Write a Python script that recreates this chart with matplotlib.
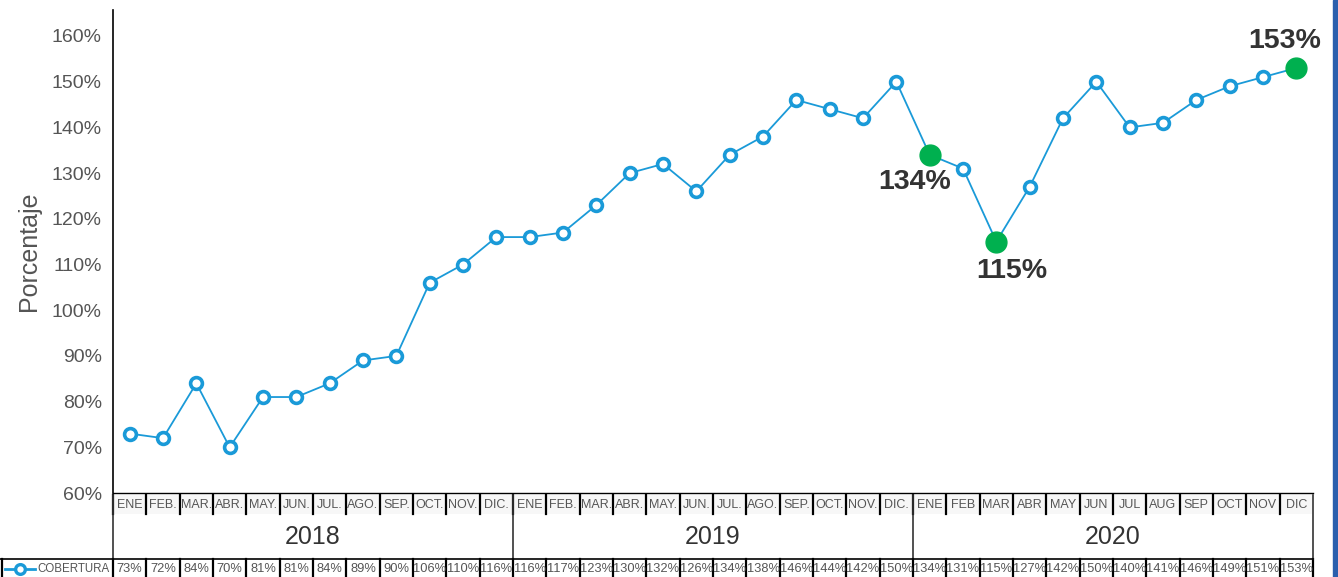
import numpy as np
import matplotlib.pyplot as plt
from matplotlib.patches import Rectangle

plt.rcParams['font.family'] = ['Liberation Sans', 'DejaVu Sans']

# datos de cobertura mensual
anios = ['2018', '2019', '2020']
meses_2018 = ['ENE', 'FEB.', 'MAR.', 'ABR.', 'MAY.', 'JUN.', 'JUL.', 'AGO.', 'SEP.', 'OCT.', 'NOV.', 'DIC.']
meses_2019 = ['ENE', 'FEB.', 'MAR.', 'ABR.', 'MAY.', 'JUN.', 'JUL.', 'AGO.', 'SEP.', 'OCT.', 'NOV.', 'DIC.']
meses_2020 = ['ENE', 'FEB', 'MAR', 'ABR', 'MAY', 'JUN', 'JUL', 'AUG', 'SEP', 'OCT', 'NOV', 'DIC']
cobertura = [73, 72, 84, 70, 81, 81, 84, 89, 90, 106, 110, 116,
             116, 117, 123, 130, 132, 126, 134, 138, 146, 144, 142, 150,
             134, 131, 115, 127, 142, 150, 140, 141, 146, 149, 151, 153]
destacados = [24, 26, 35]  # puntos verdes
yticks = [60, 70, 80, 90, 100, 110, 120, 130, 140, 150, 160]

meses = meses_2018 + meses_2019 + meses_2020
n = len(cobertura)
azul = '#1a9ad8'
verde = '#00b04f'
gris = '#555555'

W, H = 1338, 577
fig = plt.figure(figsize=(W / 100, H / 100), dpi=100)

x0, x1 = 113, 1313
ytop, ybot = 10, 493
ax = fig.add_axes([x0 / W, (H - ybot) / H, (x1 - x0) / W, (ybot - ytop) / H])
ax.set_facecolor('none')
x = np.arange(n)
ax.plot(x, cobertura, color=azul, lw=1.3, marker='o', ms=8.5, mfc='white',
        mec=azul, mew=2.6, zorder=3)
for i in destacados:
    ax.plot(i, cobertura[i], 'o', color=verde, ms=15, zorder=4)

# etiquetas de los puntos destacados
etq = dict(ha='center', va='center', fontsize=20.5, fontweight='bold', color='#333333')
ax.text(24 - 0.45, cobertura[24] - 6, f'{cobertura[24]}%', **etq)
ax.text(26 + 0.45, cobertura[26] - 6.5, f'{cobertura[26]}%', **etq)
ax.text(35 - 0.35, cobertura[35] + 6, f'{cobertura[35]}%', **etq)

scale = 45.7 / 10
ax.set_xlim(-0.5, n - 0.5)
ax.set_ylim(60, 60 + (ybot - ytop) / scale)
ax.set_yticks(yticks)
ax.set_yticklabels([f'{v}%' for v in yticks], fontsize=14, color=gris)
ax.tick_params(axis='y', length=0, pad=8)
ax.set_xticks([])
for s in ['top', 'right']:
    ax.spines[s].set_visible(False)
ax.spines['left'].set_linewidth(1.2)
ax.spines['bottom'].set_linewidth(1.0)
ax.set_ylabel('Porcentaje', fontsize=18, color=gris, labelpad=8)

# tabla inferior en coordenadas de pixel
tab = fig.add_axes([0, 0, 1, (H - ybot) / H])
tab.set_xlim(0, W)
tab.set_ylim(H, ybot)
tab.axis('off')
cw = (x1 - x0) / n

def cx(i):
    return x0 + (i + 0.5) * cw

lk = dict(color='black', lw=1.6)
for i in range(n):
    tab.plot([x0 + i * cw] * 2, [495, 514], **lk)
    tab.add_patch(Rectangle((x0 + i * cw + 1, 495), cw - 2, 19, color='#f2f2f2', alpha=0.6, lw=0))
    tab.text(cx(i), 505, meses[i], ha='center', va='center', fontsize=9, color=gris)
    tab.plot([x0 + i * cw] * 2, [559, 577], **lk)
    tab.text(cx(i), 569, f'{cobertura[i]}%', ha='center', va='center', fontsize=9.3, color=gris)
tab.plot([x1, x1], [559, 577], **lk)

for k, a in enumerate(anios):
    xa = x0 + k * 12 * cw
    tab.plot([xa, xa], [495, 559], color='#333333', lw=1.2)
    tab.text(xa + 6 * cw, 537, a, ha='center', va='center', fontsize=18, color='#333333')
tab.plot([x1, x1], [495, 559], color='#333333', lw=1.2)
tab.plot([0, x1], [558.5, 558.5], color='black', lw=1.2)
tab.plot([2, 2], [559, 577], **lk)

# leyenda
tab.plot([5, 35], [569, 569], color=azul, lw=2)
tab.plot(20, 569, 'o', ms=7, mfc='white', mec=azul, mew=2.4)
tab.text(37, 569, 'COBERTURA', ha='left', va='center', fontsize=8.3, color=gris)

# barra azul a la derecha
fig.patches.append(Rectangle((1333 / W, 0), 5 / W, 1, transform=fig.transFigure,
                             color='#2b5fad', zorder=10))

fig.savefig('out.png', dpi=100)
